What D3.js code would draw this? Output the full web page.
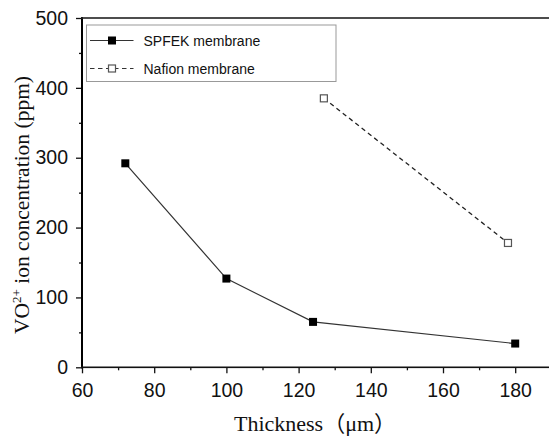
<!DOCTYPE html>
<html>
<head>
<meta charset="utf-8">
<script src="https://cdn.jsdelivr.net/npm/d3@7"></script>
<style>
  html, body { margin: 0; padding: 0; background: #fff; }
  svg { display: block; }
</style>
</head>
<body>
<svg id="chart" width="550" height="439"></svg>
<script>
// Thickness (μm) and VO2+ permeation for each membrane
const spfekThickness = [72, 100, 124, 180];
const spfekConc = [292, 127, 65, 34];
const nafionThickness = [127, 178];
const nafionConc = [385, 178];

const xMajorTicks = [60, 80, 100, 120, 140, 160, 180];
const xMinorTicks = [70, 90, 110, 130, 150, 170, 190];
const yMajorTicks = [0, 100, 200, 300, 400, 500];
const yMinorTicks = [50, 150, 250, 350, 450];

const seriesNames = ["SPFEK membrane", "Nafion membrane"];

const svg = d3.select("#chart");

const x = d3.scaleLinear().domain([60, 190]).range([82, 551.3]);
const y = d3.scaleLinear().domain([0, 500]).range([367.3, 18]);

const sans = "Liberation Sans, Arial, Helvetica, sans-serif";
const serif = "Liberation Serif, 'Times New Roman', Times, 'Noto Sans CJK SC', serif";

// x axis
const gx = svg.append("g").attr("transform", `translate(0,${y(0)})`);
gx.call(d3.axisBottom(x).tickValues(xMajorTicks).tickSize(6).tickSizeOuter(0).tickPadding(10));
const gxMinor = svg.append("g").attr("transform", `translate(0,${y(0)})`);
gxMinor.call(d3.axisBottom(x).tickValues(xMinorTicks).tickSize(3).tickSizeOuter(0).tickFormat(""));

// y axis
const gy = svg.append("g").attr("transform", `translate(${x(60)},0)`);
gy.call(d3.axisLeft(y).tickValues(yMajorTicks).tickSize(6).tickSizeOuter(0).tickPadding(8));
const gyMinor = svg.append("g").attr("transform", `translate(${x(60)},0)`);
gyMinor.call(d3.axisLeft(y).tickValues(yMinorTicks).tickSize(3).tickSizeOuter(0).tickFormat(""));

[gx, gxMinor, gy, gyMinor].forEach(g => {
  g.select(".domain").remove();
  g.selectAll(".tick line").attr("stroke", "#111").attr("stroke-width", 1.3);
  g.selectAll(".tick text")
    .attr("fill", "#111")
    .style("font-family", sans)
    .style("font-size", "19.5px");
});

// frame: left and bottom axis lines, plus top edge
const frameW = 2;
svg.append("rect")
  .attr("x", x(60) - frameW / 2).attr("y", y(500) - frameW / 2)
  .attr("width", frameW).attr("height", y(0) - y(500) + frameW)
  .attr("fill", "#000");
svg.append("rect")
  .attr("x", x(60) - frameW / 2).attr("y", y(0) - 0.8)
  .attr("width", 550 - x(60)).attr("height", 1.6)
  .attr("fill", "#111");
svg.append("rect")
  .attr("x", x(60) - frameW / 2).attr("y", y(500) - 0.8)
  .attr("width", 550 - x(60)).attr("height", 1.6)
  .attr("fill", "#222");

// axis titles
svg.append("text")
  .attr("x", 315).attr("y", 431)
  .attr("text-anchor", "middle")
  .style("font-family", serif)
  .style("font-size", "22px")
  .attr("fill", "#111")
  .text("Thickness（μm）");

const yTitle = svg.append("text")
  .attr("transform", "translate(29,205) rotate(-90)")
  .attr("text-anchor", "middle")
  .style("font-family", serif)
  .style("font-size", "21.5px")
  .attr("fill", "#111");
yTitle.append("tspan").text("VO");
yTitle.append("tspan").attr("dy", -8).style("font-size", "13px").text("2+");
yTitle.append("tspan").attr("dy", 8).text(" ion concentration (ppm)");

// series lines
const line = d3.line().x(d => x(d[0])).y(d => y(d[1]));
const spfek = spfekThickness.map((t, i) => [t, spfekConc[i]]);
const nafion = nafionThickness.map((t, i) => [t, nafionConc[i]]);

svg.append("path").datum(spfek)
  .attr("d", line).attr("fill", "none")
  .attr("stroke", "#333").attr("stroke-width", 1.2);

svg.append("path").datum(nafion)
  .attr("d", line).attr("fill", "none")
  .attr("stroke", "#222").attr("stroke-width", 1.3)
  .attr("stroke-dasharray", "4.5,3.5");

const ms = 8;
svg.selectAll("rect.spfek").data(spfek).enter().append("rect")
  .attr("class", "spfek")
  .attr("x", d => x(d[0]) - ms / 2).attr("y", d => y(d[1]) - ms / 2)
  .attr("width", ms).attr("height", ms)
  .attr("fill", "#000");

svg.selectAll("rect.nafion").data(nafion).enter().append("rect")
  .attr("class", "nafion")
  .attr("x", d => x(d[0]) - ms / 2 + 0.5).attr("y", d => y(d[1]) - ms / 2 + 0.5)
  .attr("width", ms - 1).attr("height", ms - 1)
  .attr("fill", "#fff").attr("stroke", "#555").attr("stroke-width", 1.2);

// legend
const lg = svg.append("g");
lg.append("rect")
  .attr("x", 86.5).attr("y", 25).attr("width", 249.5).attr("height", 56.5)
  .attr("fill", "#fff").attr("stroke", "#999").attr("stroke-width", 1);

const rows = [
  { name: seriesNames[0], yy: 40.5, dash: null, fill: "#000", stroke: "#333" },
  { name: seriesNames[1], yy: 68.5, dash: "4.5,3.5", fill: "#fff", stroke: "#555" }
];
rows.forEach(r => {
  lg.append("line")
    .attr("x1", 90).attr("x2", 133.5).attr("y1", r.yy).attr("y2", r.yy)
    .attr("stroke", "#333").attr("stroke-width", 1.2)
    .attr("stroke-dasharray", r.dash);
  if (r.dash) {
    lg.append("rect")
      .attr("x", 112 - ms / 2 + 0.5).attr("y", r.yy - ms / 2 + 0.5)
      .attr("width", ms - 1).attr("height", ms - 1)
      .attr("fill", "#fff").attr("stroke", r.stroke).attr("stroke-width", 1.2);
  } else {
    lg.append("rect")
      .attr("x", 112 - ms / 2).attr("y", r.yy - ms / 2)
      .attr("width", ms).attr("height", ms)
      .attr("fill", r.fill);
  }
  lg.append("text")
    .attr("x", 143.5).attr("y", r.yy + 5)
    .style("font-family", sans).style("font-size", "14px")
    .attr("fill", "#111")
    .text(r.name);
});
</script>
</body>
</html>
